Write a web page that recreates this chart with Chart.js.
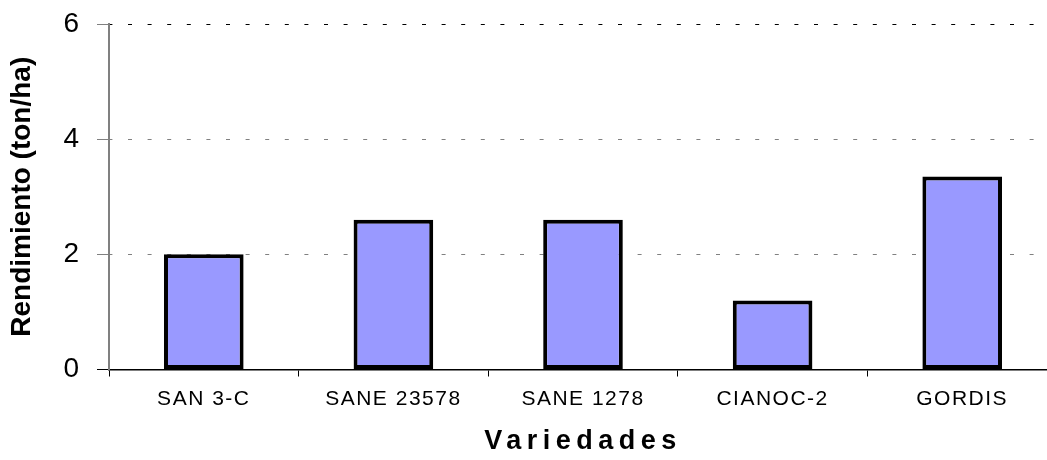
<!DOCTYPE html>
<html>
<head>
<meta charset="utf-8">
<script src="https://cdn.jsdelivr.net/npm/chart.js@4"></script>
<style>
  html, body { margin: 0; padding: 0; background: #fff; overflow: hidden; }
</style>
</head>
<body>
<canvas id="myChart" width="1057" height="460"></canvas>
<script>
const variedades = ["SAN 3-C", "SANE 23578", "SANE 1278", "CIANOC-2", "GORDIS"];
const rendimiento = [2.0, 2.6, 2.6, 1.2, 3.35];
const yMin = 0;
const yMax = 6;
const yStep = 2;
const xTitle = "Variedades";
const yTitle = "Rendimiento (ton/ha)";

const fontFamily = "'Liberation Sans', Arial, sans-serif";

// the reference text is drawn with wide letter spacing; Chart.js has no option for it
const spacing = {
  x: { labels: "1.5px", title: "5.5px" },
  y: { labels: "0px", title: "0px" },
};

const letterSpacingPlugin = {
  id: "letterSpacing",
  beforeDraw(chart) {
    Object.values(chart.scales).forEach(function (scale) {
      if (scale._spacingPatched) return;
      const sp = spacing[scale.id];
      if (!sp) return;
      const origTitle = scale.drawTitle;
      const origLabels = scale.drawLabels;
      scale.drawTitle = function () {
        const prev = this.ctx.letterSpacing;
        this.ctx.letterSpacing = sp.title;
        origTitle.apply(this, arguments);
        this.ctx.letterSpacing = prev;
      };
      scale.drawLabels = function () {
        const prev = this.ctx.letterSpacing;
        this.ctx.letterSpacing = sp.labels;
        origLabels.apply(this, arguments);
        this.ctx.letterSpacing = prev;
      };
      scale._spacingPatched = true;
    });
  },
};

const ctx = document.getElementById("myChart").getContext("2d");

new Chart(ctx, {
  type: "bar",
  data: {
    labels: variedades,
    datasets: [
      {
        data: rendimiento,
        backgroundColor: "#9999FF",
        borderColor: "#000000",
        borderWidth: 4,
        borderSkipped: false,
        barPercentage: 0.42,
        categoryPercentage: 1,
      },
    ],
  },
  options: {
    responsive: false,
    animation: false,
    devicePixelRatio: 1,
    layout: { padding: { top: 24, left: 0, right: 0, bottom: 0 } },
    plugins: {
      legend: { display: false },
      tooltip: { enabled: false },
    },
    scales: {
      x: {
        offset: true,
        grid: {
          offset: true,
          drawOnChartArea: false,
          drawTicks: true,
          tickLength: 7,
          color: "#000",
          lineWidth: 1,
        },
        border: { color: "#000", width: 1.5 },
        ticks: {
          color: "#000",
          padding: 10,
          maxRotation: 0,
          autoSkip: false,
          font: { family: fontFamily, size: 21 },
        },
        title: {
          display: true,
          text: xTitle,
          color: "#000",
          padding: { top: 0, bottom: 2 },
          font: { family: fontFamily, size: 27, weight: "bold", lineHeight: 1.2 },
        },
        afterFit: function (scale) {
          scale.height = 90.5;
          scale.paddingLeft = 0;
          scale.paddingRight = 0;
        },
      },
      y: {
        min: yMin,
        max: yMax,
        ticks: {
          stepSize: yStep,
          color: "#000",
          padding: 18,
          font: { family: fontFamily, size: 28 },
        },
        grid: {
          color: function (c) {
            if (c.tick.value === 0) return "rgba(0,0,0,0)";
            return c.tick.value === yMax ? "#000" : "#808080";
          },
          tickColor: function (c) {
            return c.tick.value === 0 ? "#000" : "#808080";
          },
          lineWidth: 1,
          tickLength: 12,
        },
        border: { color: "#808080", width: 2, dash: [4, 15.6], dashOffset: 1.6 },
        title: {
          display: true,
          text: yTitle,
          color: "#000",
          padding: { top: 5, bottom: 0 },
          font: { family: fontFamily, size: 28, weight: "bold", lineHeight: 1.2 },
        },
        afterFit: function (scale) {
          scale.width = 109;
          scale.paddingTop = 0;
          scale.paddingBottom = 0;
        },
      },
    },
  },
  plugins: [letterSpacingPlugin],
});
</script>
</body>
</html>
